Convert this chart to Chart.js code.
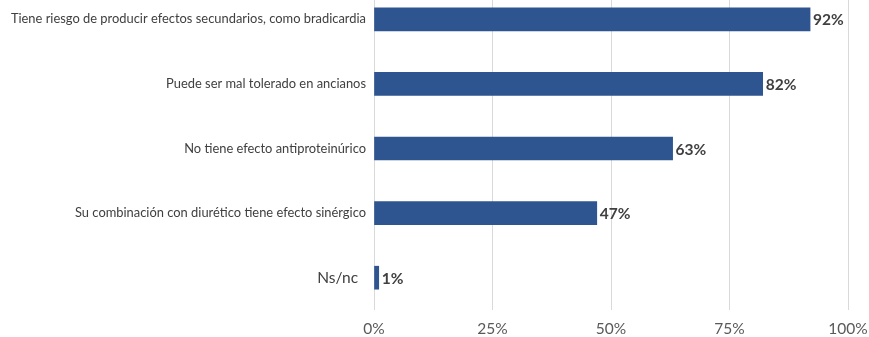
<!DOCTYPE html>
<html>
<head>
<meta charset="utf-8">
<script src="https://cdn.jsdelivr.net/npm/chart.js@4/dist/chart.umd.min.js"></script>
<style>
  html, body { margin: 0; padding: 0; background: #fff; overflow: hidden; }
  #wrap { position: relative; width: 869px; height: 350px; margin-top: -13px; }
</style>
</head>
<body>
<div id="wrap"><canvas id="bar-chart"></canvas></div>
<script>
const categories = [
    'Tiene riesgo de producir efectos secundarios, como bradicardia',
    'Puede ser mal tolerado en ancianos',
    'No tiene efecto antiproteinúrico',
    'Su combinación con diurético tiene efecto sinérgico',
    'Ns/nc'
];
const percentages = [92, 82, 63, 47, 1];
const xTicks = [0, 25, 50, 75, 100];

const FONT = 'Lato, "DejaVu Sans", sans-serif';

// draws the "92%" style labels just past the end of each bar
const valueLabels = {
    id: 'valueLabels',
    afterDatasetsDraw(chart) {
        const ctx = chart.ctx;
        const meta = chart.getDatasetMeta(0);
        ctx.save();
        ctx.font = 'bold 15.5px ' + FONT;
        ctx.fillStyle = '#404040';
        ctx.textAlign = 'left';
        ctx.textBaseline = 'middle';
        meta.data.forEach((bar, i) => {
            ctx.fillText(percentages[i] + '%', bar.x + 3, bar.y + 1);
        });
        ctx.restore();
    }
};

// keep the plot area exactly where we put it, no extra room for edge labels
function noEdgePadding(scale) {
    scale.paddingTop = 0;
    scale.paddingBottom = 0;
    scale.paddingLeft = 0;
    scale.paddingRight = 0;
}

new Chart(document.getElementById('bar-chart'), {
    type: 'bar',
    data: {
        labels: categories,
        datasets: [{
            data: percentages,
            backgroundColor: '#2E5590',
            barThickness: 23
        }]
    },
    plugins: [valueLabels],
    options: {
        indexAxis: 'y',
        responsive: true,
        maintainAspectRatio: false,
        animation: false,
        layout: { padding: { top: 0, right: 21, bottom: 0, left: 0 } },
        plugins: {
            legend: { display: false },
            tooltip: { enabled: false }
        },
        scales: {
            x: {
                min: 0,
                max: 100,
                afterBuildTicks: scale => {
                    scale.ticks = xTicks.map(v => ({ value: v }));
                },
                afterFit: scale => {
                    scale.height = 27;
                    noEdgePadding(scale);
                },
                border: { display: false },
                grid: { color: '#d9d9d9', drawTicks: false },
                ticks: {
                    padding: 10,
                    color: '#595959',
                    font: { family: FONT, size: 15.5 },
                    callback: v => v + '%'
                }
            },
            y: {
                afterFit: scale => {
                    scale.width = 374;
                    noEdgePadding(scale);
                },
                border: { display: false },
                grid: { display: false, drawTicks: false },
                ticks: {
                    padding: 8,
                    color: '#404040',
                    font: ctx => ({ family: FONT, size: ctx.index === 4 ? 15.5 : 12.9 }),
                    callback: (v, i) => categories[i] + (i === 4 ? '\u00a0\u00a0' : '')
                }
            }
        }
    }
});
</script>
</body>
</html>
